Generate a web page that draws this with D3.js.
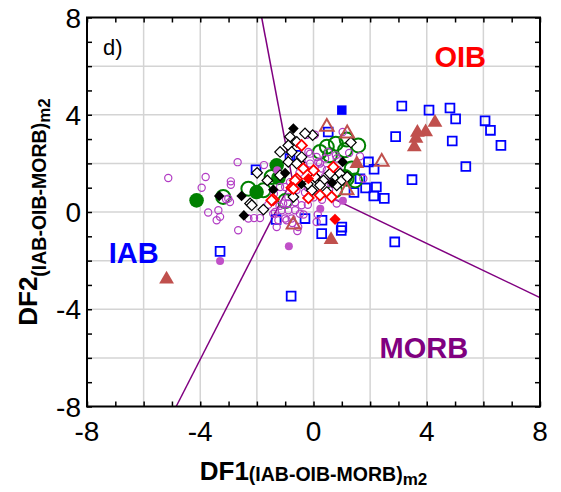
<!DOCTYPE html>
<html>
<head>
<meta charset="utf-8">
<script src="https://cdn.jsdelivr.net/npm/d3@7/dist/d3.min.js"></script>
<style>
  body { margin: 0; background: #fff; }
  text { font-family: "Liberation Sans", Arial, sans-serif; }
</style>
</head>
<body>
<div id="chart"></div>
<script>
// ---- data ----
const xTicks = [-8, -4, 0, 4, 8]
const yTicks = [-8, -4, 0, 4, 8]

// field boundaries (three segments meeting at a triple point)
const boundaryTop = [[-1.83, 8], [-0.75, 1.35]]
const boundaryLeft = [[-4.85, -8], [-0.75, 1.35]]
const boundaryRight = [[-0.75, 1.35], [8, -3.52]]

const fieldLabels = ["OIB", "IAB", "MORB"]
const fieldPos = [[5.18, 5.95], [-6.35, -2.1], [3.9, -6.0]]

const blueOpenSquares = [[3.12, 4.36], [4.08, 4.19], [4.82, 4.28], [5.02, 3.83], [6.06, 3.75], [6.25, 3.36],
  [6.62, 2.74], [2.90, 3.10], [4.90, 2.92], [5.38, 1.87], [3.48, 1.33], [1.94, 2.06], [2.14, 1.76],
  [1.84, 0.99], [2.22, 1.03], [2.13, 0.66], [2.50, 0.56], [2.87, -1.23], [-0.30, -0.27], [0.30, -0.34],
  [0.29, -0.89], [1.00, -0.62], [0.98, -0.76], [1.43, 0.80], [-2.03, 1.74], [-1.32, -0.31], [-3.30, -1.62],
  [-0.79, -3.46], [-0.83, 2.20], [0.52, 3.29], [-0.59, 2.33], [1.64, 1.37]]
const blueFilledSquares = [[1.0, 4.19]]

const greenOpenCircles = [[-3.19, 0.62], [-2.30, 0.96], [-1.48, 1.44], [-1.77, 0.89], [0.47, 2.68], [0.79, 2.81],
  [1.17, 2.98], [1.58, 2.74], [0.23, 2.47], [0.58, 2.33], [1.11, 2.54], [1.17, 1.37], [1.47, 1.30],
  [1.35, 1.79], [1.11, 1.44], [0.76, 0.89], [-1.0, 0.45]]
const greenFilledCircles = [[-4.13, 0.48], [-2.01, 0.82], [-1.30, 1.92], [-1.24, 1.40]]

const magentaOpenCircles = [[-5.13, 1.40], [-3.81, 1.44], [-3.95, 1.0], [-2.92, 1.26], [-2.92, 1.12], [-2.68, 2.05],
  [-1.75, 1.93], [-0.24, 3.18], [0.05, 3.18], [-3.72, -0.02], [-3.42, -0.34], [-3.30, -0.2], [-2.95, 0.41],
  [-3.09, 0.52], [-3.01, 0.55], [-3.36, 0.07], [-2.66, -0.75], [-2.30, -0.27], [-2.10, -0.25], [-1.89, -0.25],
  [-1.42, -0.07], [-1.24, -0.34], [-1.30, -0.62], [-0.95, -0.34], [-0.57, -0.78], [-0.48, -0.07],
  [-1.36, 0.0], [-1.12, 0.07], [-0.89, 0.07], [-0.65, 0.07], [-0.42, 0.28], [-1.0, -0.27], [-0.77, -0.27],
  [-0.54, -0.62], [0.11, -0.41], [0.82, 0.35], [-1.07, 0.35], [-1.42, 0.48], [-0.89, 0.62], [1.03, 3.29],
  [-0.12, 2.40], [0.52, 2.47], [0.79, 2.33], [1.26, 2.43], [1.64, 2.29], [1.76, 1.37], [-0.42, 2.13],
  [0.17, 2.06], [0.29, 1.79], [0.47, 1.72], [-0.18, 2.47], [0.11, 2.26], [0.23, 1.99], [0.41, 2.20],
  [-0.12, 1.99], [-0.36, 1.92], [0.82, 2.20], [0.88, 1.72], [0.0, 1.72], [-0.83, 1.23], [-1.18, 1.03],
  [-1.0, 1.03], [-0.6, 0.9], [-0.3, 0.8], [0.0, 0.6], [0.3, 0.5], [-1.6, 0.3], [-1.4, 0.75], [-0.2, 0.3],
  [0.55, 0.9], [0.6, 1.2], [-0.75, -0.45], [-0.35, -0.1], [-0.9, 0.35], [-0.2, 1.0], [0.4, 1.45],
  [-0.5, 1.6], [0.15, -0.1], [-1.2, 0.25], [-0.65, 0.4]]
const magentaFilledCircles = [[-1.28, 1.72], [1.04, 0.46], [0.24, 0.13], [-0.87, -1.41], [-3.30, -2.02]]

const blackOpenDiamonds = [[-0.83, 3.09], [-0.59, 2.88], [-0.03, 3.16], [-0.3, 3.23], [-0.89, 2.74], [-1.18, 2.47],
  [-0.77, 2.47], [-0.89, 2.06], [-0.50, 2.03], [-0.42, 2.26], [-0.59, 1.99], [-1.99, 1.61], [-1.63, 1.30],
  [-1.18, 1.51], [-0.71, 0.62], [-2.24, 0.35], [-1.77, 0.10], [-2.18, 0.28], [0.11, 1.37], [0.35, 1.30],
  [-0.06, 0.89], [0.47, 0.82], [0.94, 1.58], [0.82, 1.10], [1.32, 2.86], [1.0, 1.30], [1.19, 1.44],
  [0.05, 1.44], [0.58, 1.58], [0.23, 1.1], [-0.2, 1.15]]
const blackFilledDiamonds = [[-0.71, 3.43], [-3.33, 0.66], [-2.54, 0.66], [-2.46, -0.14], [-1.42, 0.92],
  [-1.0, 1.6], [-0.43, 1.15], [1.03, 2.06], [0.66, 1.2]]

const redOpenDiamonds = [[-0.42, 2.74], [-1.42, 0.51], [-0.36, 1.79], [-0.59, 1.37], [0.70, 1.85], [0.64, 0.62],
  [-0.77, 1.0], [0.23, 0.69], [-0.65, 1.3], [-0.18, 0.58], [-1.48, 0.48], [-0.71, 0.96], [0.0, 1.71]]
const redFilledDiamonds = [[-0.18, 1.37], [0.76, -0.30]]

const brownOpenTriangles = [[0.47, 3.50], [1.19, 3.23], [2.41, 2.06], [1.17, 0.89], [-0.71, -0.52]]
const brownFilledTriangles = [[4.29, 3.68], [3.96, 3.29], [3.67, 3.27], [3.62, 3.02], [3.56, 2.67],
  [1.53, 1.99], [0.62, -1.14], [-5.19, -2.77]]

// ---- layout ----
const width = 561, height = 492
const plot = { left: 87, right: 540, top: 17.5, bottom: 406.5 }

const svg = d3.select("#chart").append("svg")
  .attr("width", width)
  .attr("height", height)

const x = d3.scaleLinear().domain([-8, 8]).range([plot.left, plot.right])
const y = d3.scaleLinear().domain([-8, 8]).range([plot.bottom, plot.top])

// grid every 2 units
const grid = svg.append("g").attr("class", "grid")
grid.selectAll(".gx")
  .data(d3.range(-6, 8, 2))
  .enter().append("line")
  .attr("x1", d => x(d)).attr("x2", d => x(d))
  .attr("y1", plot.top).attr("y2", plot.bottom)
  .attr("stroke", "#d4d4d4").attr("stroke-width", 1.5)
grid.selectAll(".gy")
  .data(d3.range(-6, 8, 2))
  .enter().append("line")
  .attr("y1", d => y(d)).attr("y2", d => y(d))
  .attr("x1", plot.left).attr("x2", plot.right)
  .attr("stroke", "#d4d4d4").attr("stroke-width", 1.5)

// boundary lines
const lineGen = d3.line().x(d => x(d[0])).y(d => y(d[1]))
svg.append("g").selectAll("path")
  .data([boundaryTop, boundaryLeft, boundaryRight])
  .enter().append("path")
  .attr("d", lineGen)
  .attr("fill", "none")
  .attr("stroke", "#800080")
  .attr("stroke-width", 1.5)

// markers
const marks = svg.append("g").attr("class", "marks")

function drawSymbols(data, type, size, fill, stroke, strokeWidth, rotate) {
  marks.append("g").selectAll("path")
    .data(data)
    .enter().append("path")
    .attr("d", d3.symbol().type(type).size(size))
    .attr("transform", d => `translate(${x(d[0])},${y(d[1])})` + (rotate ? ` rotate(${rotate})` : ""))
    .attr("fill", fill)
    .attr("stroke", stroke)
    .attr("stroke-width", strokeWidth)
}

drawSymbols(blueOpenSquares, d3.symbolSquare, 78, "none", "#0000ff", 1.8)
drawSymbols(greenOpenCircles, d3.symbolCircle, Math.PI * 7 * 7, "none", "#008000", 2)
drawSymbols(greenFilledCircles, d3.symbolCircle, Math.PI * 7.3 * 7.3, "#008000", "none", 0)
drawSymbols(magentaOpenCircles, d3.symbolCircle, Math.PI * 3.6 * 3.6, "none", "#b23cc4", 1.2)
drawSymbols(magentaFilledCircles, d3.symbolCircle, Math.PI * 4 * 4, "#c050c8", "none", 0)
drawSymbols(blackOpenDiamonds, d3.symbolSquare, 56, "#fff", "#000", 1.2, 45)
drawSymbols(blackFilledDiamonds, d3.symbolSquare, 56, "#000", "none", 0, 45)
drawSymbols(redOpenDiamonds, d3.symbolSquare, 56, "#fff", "#ff0000", 1.8, 45)
drawSymbols(redFilledDiamonds, d3.symbolSquare, 64, "#ff0000", "none", 0, 45)
drawSymbols(brownOpenTriangles, d3.symbolTriangle, 80, "none", "#c0504d", 2)
drawSymbols(brownFilledTriangles, d3.symbolTriangle, 95, "#c0504d", "none", 0)
drawSymbols(blueFilledSquares, d3.symbolSquare, 90, "#0000ff", "none", 0)

// frame
svg.append("rect")
  .attr("x", plot.left).attr("y", plot.top)
  .attr("width", plot.right - plot.left).attr("height", plot.bottom - plot.top)
  .attr("fill", "none").attr("stroke", "#000").attr("stroke-width", 2)

// ticks every unit, inward on all four sides
const axisX = d3.axisBottom(x).tickValues(d3.range(-8, 9, 1)).tickSize(-5).tickFormat("")
const axisXTop = d3.axisTop(x).tickValues(d3.range(-8, 9, 1)).tickSize(-5).tickFormat("")
const axisY = d3.axisLeft(y).tickValues(d3.range(-8, 9, 1)).tickSize(-5).tickFormat("")
const axisYRight = d3.axisRight(y).tickValues(d3.range(-8, 9, 1)).tickSize(-5).tickFormat("")
const axes = [
  [axisX, `translate(0,${plot.bottom})`],
  [axisXTop, `translate(0,${plot.top})`],
  [axisY, `translate(${plot.left},0)`],
  [axisYRight, `translate(${plot.right},0)`]
]
axes.forEach(([ax, tr]) => {
  const g = svg.append("g").attr("transform", tr).call(ax)
  g.select(".domain").remove()
  g.selectAll("line").attr("stroke", "#000").attr("stroke-width", 1.5)
})

// tick labels
svg.append("g").selectAll("text")
  .data(xTicks)
  .enter().append("text")
  .attr("x", d => x(d))
  .attr("y", 441)
  .attr("text-anchor", "middle")
  .attr("font-size", 28)
  .text(d => d)
svg.append("g").selectAll("text")
  .data(yTicks)
  .enter().append("text")
  .attr("x", 81)
  .attr("y", d => y(d) + 10)
  .attr("text-anchor", "end")
  .attr("font-size", 28)
  .text(d => d)

// panel letter
svg.append("text")
  .attr("x", 103).attr("y", 55)
  .attr("font-size", 22)
  .text("d)")

// field labels
const fieldColors = ["#ff0000", "#0000ff", "#800080"]
svg.append("g").selectAll("text")
  .data(fieldLabels)
  .enter().append("text")
  .attr("x", (d, i) => x(fieldPos[i][0]))
  .attr("y", (d, i) => y(fieldPos[i][1]))
  .attr("text-anchor", "middle")
  .attr("font-size", 29)
  .attr("font-weight", "bold")
  .attr("fill", (d, i) => fieldColors[i])
  .text(d => d)

// axis titles
const xTitle = svg.append("text")
  .attr("x", (plot.left + plot.right) / 2)
  .attr("y", 480)
  .attr("text-anchor", "middle")
  .attr("font-weight", "bold")
xTitle.append("tspan").attr("font-size", 26).text("DF1")
xTitle.append("tspan").attr("font-size", 19.5).attr("dy", 1).text("(IAB-OIB-MORB)")
xTitle.append("tspan").attr("font-size", 17).attr("dy", 4).text("m2")

const yTitle = svg.append("text")
  .attr("transform", `translate(37,${(plot.top + plot.bottom) / 2}) rotate(-90)`)
  .attr("text-anchor", "middle")
  .attr("font-weight", "bold")
yTitle.append("tspan").attr("font-size", 26).text("DF2")
yTitle.append("tspan").attr("font-size", 19.5).attr("dy", 9).text("(IAB-OIB-MORB)")
yTitle.append("tspan").attr("font-size", 17).attr("dy", 4).text("m2")
</script>
</body>
</html>
